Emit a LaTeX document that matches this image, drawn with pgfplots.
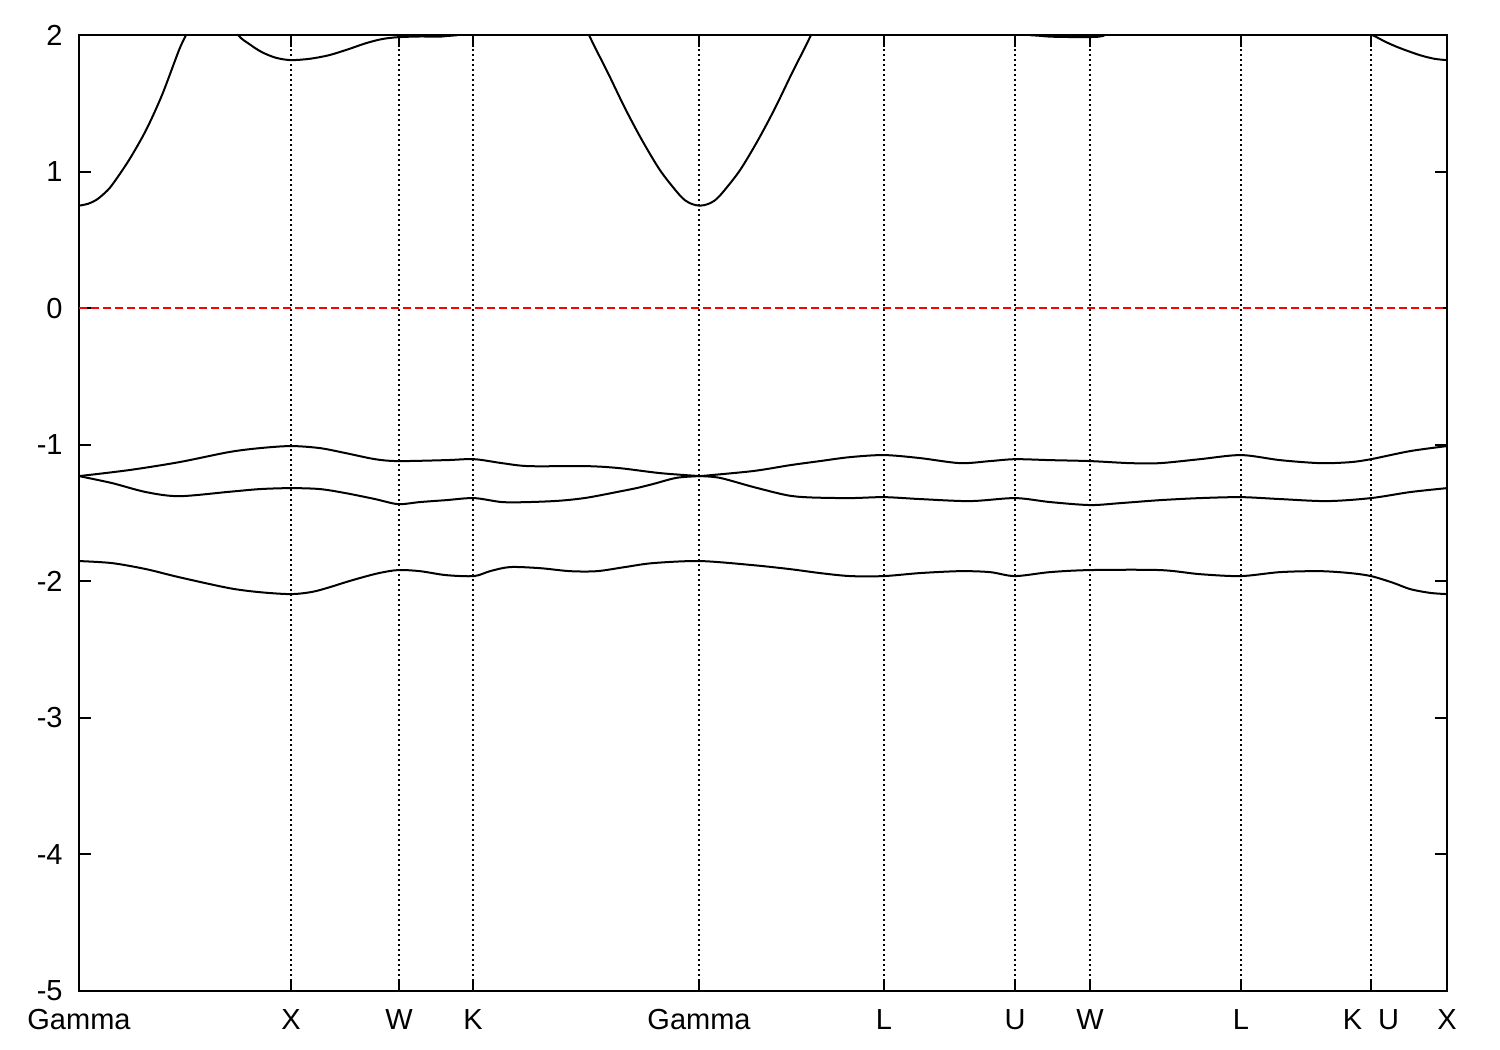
\documentclass[border=0pt]{standalone}
\usepackage{pgfplots}
\pgfplotsset{compat=1.18}
\usepackage{fontspec}
\setmainfont{Liberation Sans}
\begin{document}
\begin{tikzpicture}
\begin{axis}[
  scale only axis,
  width=684pt, height=478pt,
  xmin=79, xmax=1447, ymin=-5, ymax=2,
  axis line style={black, line width=1pt},
  tick align=inside,
  major tick length=6pt,
  every tick/.style={black, line width=1pt},
  xtick={79,291,399,473,699,884,1015,1090,1241,1371,1447},
  xticklabels={Gamma,X,W,K,Gamma,L,U,W,L,K\ \ U,X},
  ytick={-5,-4,-3,-2,-1,0,1,2},
  yticklabels={-5,-4,-3,-2,-1,0,1,2},
  xmajorgrids,
  grid style={black, line width=0.7pt, dash pattern=on 1pt off 1.5pt},
  xticklabel style={font=\fontsize{14.5}{17}\selectfont, inner sep=0pt, yshift=-9pt},
  yticklabel style={font=\fontsize{14.5}{17}\selectfont, inner sep=0pt, xshift=-8pt},
  every axis plot/.append style={line width=1pt},
]
% Fermi level
\addplot[red, line width=0.8pt, dash pattern=on 4pt off 2pt] coordinates {(79,0) (1447,0)};
% band 1
\addplot[black, smooth] coordinates {
(79,-1.852) (112,-1.867) (146,-1.911) (179,-1.970) (229,-2.050) (260,-2.080) (291,-2.094)
(312,-2.078) (329,-2.045) (346,-2.006) (362,-1.972) (379,-1.940) (398,-1.918) (420,-1.926)
(446,-1.955) (474,-1.962)
(490,-1.926) (510,-1.896) (540,-1.904) (570,-1.926) (597,-1.926) (625,-1.896) (653,-1.867)
(700,-1.852) (753,-1.882) (790,-1.911) (820,-1.940) (850,-1.962) (884,-1.962) (920,-1.940)
(960,-1.926) (990,-1.933) (1015,-1.962) (1050,-1.933) (1090,-1.918) (1160,-1.918) (1200,-1.948)
(1241,-1.962) (1280,-1.933) (1320,-1.926) (1350,-1.940) (1371,-1.962) (1393,-2.011) (1410,-2.057)
(1430,-2.085) (1447,-2.094)
};
% band 2, Gamma to Gamma
\addplot[black, smooth] coordinates {
(79,-1.230) (112,-1.281) (146,-1.347) (179,-1.377) (229,-1.345) (260,-1.325) (291,-1.318)
(320,-1.325) (346,-1.355) (375,-1.398) (398,-1.435) (420,-1.420) (446,-1.406) (474,-1.391)
(502,-1.420) (529,-1.420) (560,-1.410) (587,-1.388) (620,-1.342) (637,-1.317) (653,-1.288)
(677,-1.242) (700,-1.230)
};
% band 2, Gamma to X
\addplot[black, smooth] coordinates {
(700,-1.230) (720,-1.243) (753,-1.309) (787,-1.370) (810,-1.386) (850,-1.391) (884,-1.384)
(920,-1.398) (970,-1.413) (1015,-1.391) (1050,-1.420) (1090,-1.442) (1120,-1.428) (1160,-1.406)
(1200,-1.391) (1241,-1.384) (1280,-1.398) (1327,-1.413) (1371,-1.391) (1410,-1.347) (1447,-1.318)
};
% band 3, Gamma to Gamma
\addplot[black, smooth] coordinates {
(79,-1.230) (129,-1.186) (179,-1.128) (229,-1.054) (260,-1.025) (291,-1.010) (320,-1.025)
(346,-1.062) (375,-1.106) (398,-1.120) (446,-1.113) (474,-1.106) (502,-1.135) (529,-1.157)
(587,-1.157) (620,-1.172) (660,-1.208) (700,-1.230)
};
% band 3, Gamma to X
\addplot[black, smooth] coordinates {
(700,-1.230) (753,-1.193) (790,-1.150) (820,-1.120) (850,-1.091) (884,-1.076) (920,-1.098)
(960,-1.135) (990,-1.120) (1015,-1.106) (1050,-1.113) (1090,-1.120) (1130,-1.135) (1160,-1.135)
(1200,-1.106) (1241,-1.076) (1280,-1.113) (1320,-1.135) (1350,-1.128) (1371,-1.106) (1410,-1.047)
(1447,-1.010)
};
% conduction band
\addplot[black, smooth] coordinates {
(79,0.750) (88,0.764) (96,0.791) (104,0.838) (112,0.901) (129,1.084) (146,1.303) (162,1.560)
(179,1.889) (186,1.999) (195,2.14) (205,2.25) (215,2.25) (225,2.16) (238,2.0) (250,1.93)
(262,1.874) (276,1.833) (291,1.816) (310,1.826) (329,1.852) (348,1.895) (366,1.940) (382,1.970)
(398,1.984) (420,1.989) (446,1.992) (470,2.05) (530,2.5) (560,2.5) (575,2.25)
(589,2.0) (608,1.721) (625,1.464) (642,1.230) (660,1.010) (677,0.850) (685,0.790) (692,0.762)
(700,0.750) (708,0.762) (715,0.790) (723,0.850) (740,1.010) (758,1.230) (775,1.464) (792,1.721)
(811,2.0) (825,2.25) (840,2.5) (900,2.7) (990,2.4) (1020,2.04) (1042,1.993) (1070,1.985)
(1090,1.985) (1103,1.993) (1130,2.05) (1300,2.1) (1360,2.02) (1372,2.0) (1386,1.948) (1400,1.904)
(1420,1.852) (1435,1.825) (1447,1.816)
};
\end{axis}
\path ([shift={(-39.5pt,-29.5pt)}]current axis.south west) rectangle ([shift={(26.5pt,17.5pt)}]current axis.north east);
\end{tikzpicture}
\end{document}
